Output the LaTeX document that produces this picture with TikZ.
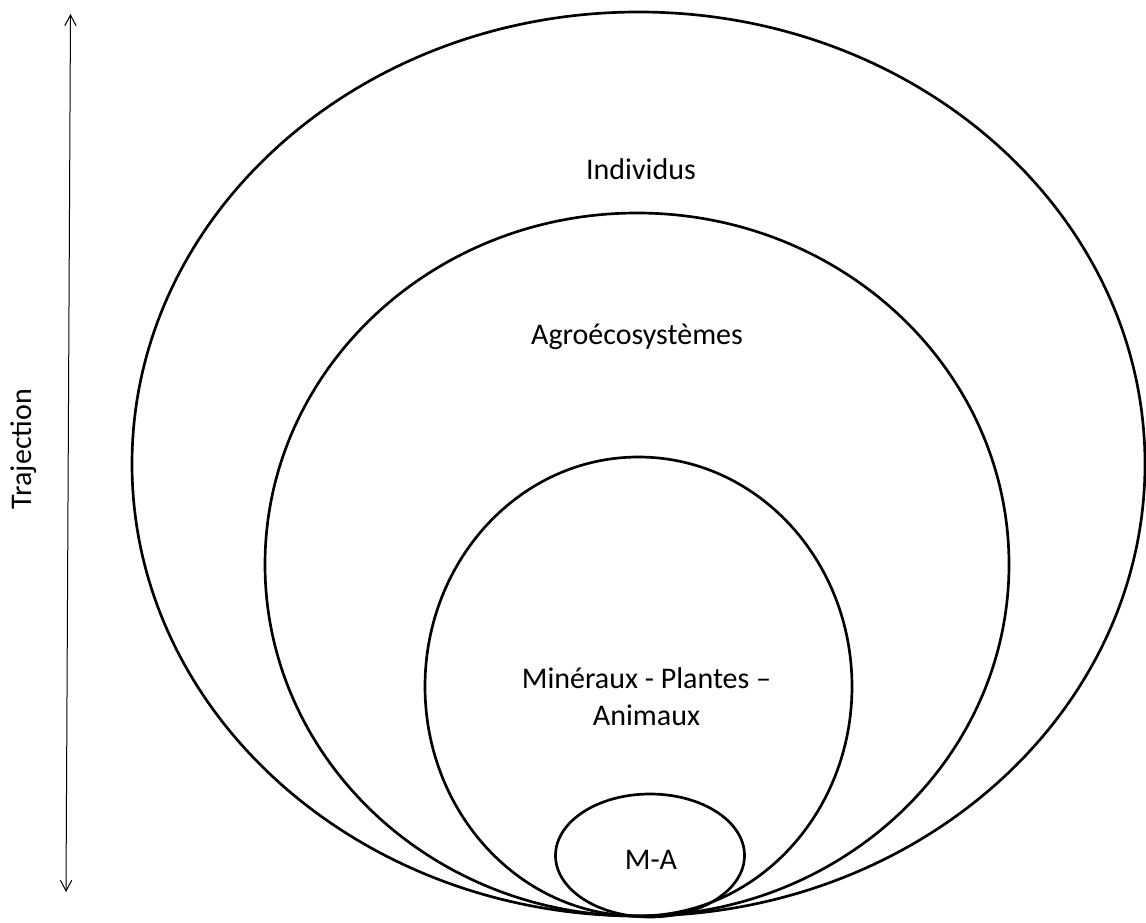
\documentclass[tikz,border=0pt]{standalone}
\usepackage{fontspec}
\setmainfont{Carlito}
\usetikzlibrary{shapes.geometric,arrows.meta}
\begin{document}
\begin{tikzpicture}[x=0.75pt,y=-0.75pt,font=\fontsize{22.5}{28}\selectfont]
\useasboundingbox (0,0) rectangle (1146,923);
\node[draw, ellipse, line width=2pt, inner sep=0pt, minimum width=759.75pt, minimum height=678pt] (ind) at (638.5,464) {};
\node[draw, ellipse, line width=2pt, inner sep=0pt, minimum width=558pt, minimum height=527.25pt] (agro) at (637,564.5) {};
\node[draw, ellipse, line width=2pt, inner sep=0pt, minimum width=320.25pt, minimum height=344.25pt] (mpa) at (638.5,686.5) {};
\node[draw, ellipse, line width=2pt, inner sep=0pt, minimum width=141.75pt, minimum height=92.25pt] (ma) at (650,855.5) {};
\node (tind) at (641,169) {Individus};
\node (tagro) at (637,337) {Agroécosystèmes};
\node[align=center] (tmpa) at (646.5,697) {Minéraux - Plantes –\\Animaux};
\node (tma) at (651,860) {M-A};
\node[rotate=90] (traj) at (24,449) {Trajection};
\coordinate (haut) at (70.5,14);
\coordinate (bas) at (66,892);
\path[draw,line width=0.75pt,{Straight Barb[length=8pt,width=8.5pt]}-{Straight Barb[length=8pt,width=8.5pt]}] (bas) -- (haut);
\end{tikzpicture}
\end{document}
